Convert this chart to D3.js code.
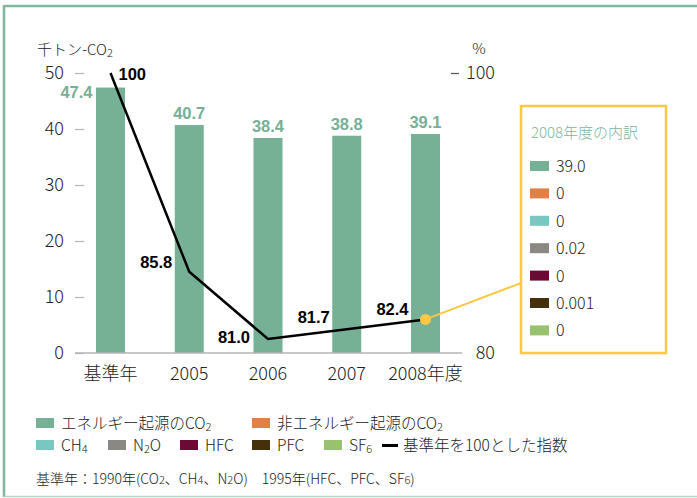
<!DOCTYPE html>
<html>
<head>
<meta charset="utf-8">
<script src="https://cdn.jsdelivr.net/npm/d3@7"></script>
<style>
  body { margin: 0; background: #fff; }
  text { font-family: "Noto Sans CJK JP", "Noto Sans", sans-serif; font-weight: 300; }
  .num { font-family: "Liberation Sans", Arial, sans-serif; font-weight: bold; }
</style>
</head>
<body>
<div id="chart"></div>
<script>
const categories = ["基準年", "2005", "2006", "2007", "2008年度"]
const co2Values = [47.4, 40.7, 38.4, 38.8, 39.1]
const indexValues = [100, 85.8, 81.0, 81.7, 82.4]
const leftTicks = [0, 10, 20, 30, 40, 50]
const rightTicks = [80, 100]
const breakdownLabels = ["39.0", "0", "0", "0.02", "0", "0.001", "0"]
const gasColors = ["#76b095", "#e08044", "#79c7c0", "#8b8783", "#6b0b35", "#45300c", "#99c270"]

const width = 697
const height = 498
const margin = { top: 73, bottom: 145, left: 84, right: 235 }
const plotH = height - margin.top - margin.bottom // 280

let svg = d3.select("#chart").append("svg")
    .attr("width", width)
    .attr("height", height)

// frame
svg.append("line").attr("x1", 4).attr("x2", 697).attr("y1", 6).attr("y2", 6)
    .attr("stroke", "#7fb89e").attr("stroke-width", 2.5)
svg.append("line").attr("x1", 4).attr("x2", 4).attr("y1", 5).attr("y2", 497)
    .attr("stroke", "#7fb89e").attr("stroke-width", 2.5)
svg.append("line").attr("x1", 4).attr("x2", 697).attr("y1", 496.5).attr("y2", 496.5)
    .attr("stroke", "#b4d6c4").attr("stroke-width", 1.5)

let xScale = d3.scalePoint().domain(categories).range([110.5, 425.5])
let yScale = d3.scaleLinear().domain([0, 50]).range([margin.top + plotH, margin.top])
let yScaleR = d3.scaleLinear().domain([80, 100]).range([margin.top + plotH, margin.top])
const barW = 29

// left axis
let yAxis = d3.axisLeft(yScale).tickValues(leftTicks).tickSizeInner(9).tickSizeOuter(0).tickPadding(11)
let yAxisG = svg.append("g").attr("transform", `translate(${margin.left},0)`).call(yAxis)
yAxisG.select(".domain").remove()
yAxisG.selectAll(".tick line").attr("stroke", "#b5b5b5").attr("stroke-width", 1.2)
yAxisG.selectAll(".tick text").attr("font-size", "18px").attr("fill", "#222")
    .attr("font-family", "'Noto Sans CJK JP', sans-serif")

// right axis
let yAxisR = d3.axisRight(yScaleR).tickValues(rightTicks).tickSize(0).tickPadding(0)
let yAxisRG = svg.append("g").attr("transform", "translate(495,0)").call(yAxisR)
yAxisRG.select(".domain").remove()
yAxisRG.selectAll(".tick text").attr("text-anchor", "end").attr("font-size", "18px").attr("fill", "#222")
    .attr("font-family", "'Noto Sans CJK JP', sans-serif")
yAxisRG.selectAll(".tick").filter(d => d === 100).append("line")
    .attr("x1", -44).attr("x2", -36).attr("stroke", "#555").attr("stroke-width", 1.2)

// units
let unitL = svg.append("text").attr("x", 37).attr("y", 55).attr("font-size", "15px").attr("fill", "#222")
unitL.append("tspan").text("千トン-CO")
unitL.append("tspan").attr("font-size", "11px").attr("dy", 2).text("2")
svg.append("text").attr("x", 479).attr("y", 54).attr("text-anchor", "middle")
    .attr("font-size", "15px").attr("fill", "#222").text("%")

// bars
svg.selectAll(".bar").data(co2Values).join("rect")
    .attr("class", "bar")
    .attr("x", (d, i) => xScale(categories[i]) - barW / 2)
    .attr("width", barW)
    .attr("y", d => yScale(d))
    .attr("height", d => yScale(0) - yScale(d))
    .attr("fill", gasColors[0])

// baseline
svg.append("line").attr("x1", 75).attr("x2", 462).attr("y1", yScale(0)).attr("y2", yScale(0))
    .attr("stroke", "#b5b5b5").attr("stroke-width", 1.5)

// x labels
svg.selectAll(".xlab").data(categories).join("text")
    .attr("class", "xlab")
    .attr("x", d => xScale(d)).attr("y", 380)
    .attr("text-anchor", "middle").attr("font-size", "18px").attr("fill", "#222")
    .text(d => d)

// bar value labels
svg.selectAll(".barlab").data(co2Values).join("text")
    .attr("class", "barlab num")
    .attr("x", (d, i) => i === 0 ? xScale(categories[i]) - 18 : xScale(categories[i]))
    .attr("y", (d, i) => i === 0 ? yScale(d) + 10 : yScale(d) - 6)
    .attr("text-anchor", (d, i) => i === 0 ? "end" : "middle")
    .attr("font-size", "16.5px").attr("fill", "#76b095")
    .text(d => d.toFixed(1))

// index line
let line = d3.line().x((d, i) => xScale(categories[i])).y(d => yScaleR(d))
svg.append("path").datum(indexValues)
    .attr("d", line).attr("fill", "none").attr("stroke", "#000").attr("stroke-width", 2.5)

// connector to breakdown box
let lastX = xScale(categories[4]), lastY = yScaleR(indexValues[4])
svg.append("line").attr("x1", lastX).attr("y1", lastY).attr("x2", 521).attr("y2", 283)
    .attr("stroke", "#f9c845").attr("stroke-width", 2)
svg.append("circle").attr("cx", lastX).attr("cy", lastY).attr("r", 5.5).attr("fill", "#f9c845")

// index labels
const idxOffsets = [[8, 7, "start"], [-17, -4, "end"], [-18, 4, "end"], [-33, -6, "middle"], [-17, -4, "end"]]
svg.selectAll(".idxlab").data(indexValues).join("text")
    .attr("class", "idxlab num")
    .attr("x", (d, i) => xScale(categories[i]) + idxOffsets[i][0])
    .attr("y", (d, i) => yScaleR(d) + idxOffsets[i][1])
    .attr("text-anchor", (d, i) => idxOffsets[i][2])
    .attr("font-size", "16.5px").attr("fill", "#000")
    .text((d, i) => i === 0 ? "100" : d.toFixed(1))

// breakdown box
let box = svg.append("g").attr("transform", "translate(521,106)")
box.append("rect").attr("width", 145).attr("height", 247)
    .attr("fill", "#fff").attr("stroke", "#f9c845").attr("stroke-width", 2.5)
box.append("text").attr("x", 10).attr("y", 32).attr("font-size", "15px").attr("fill", "#7db59a")
    .text("2008年度の内訳")
let rows = box.selectAll(".brow").data(breakdownLabels).join("g")
    .attr("class", "brow")
    .attr("transform", (d, i) => `translate(9,${55 + i * 27.4})`)
rows.append("rect").attr("width", 19).attr("height", 10).attr("fill", (d, i) => gasColors[i])
rows.append("text").attr("x", 26).attr("y", 11).attr("font-size", "16px").attr("fill", "#222").text(d => d)

// bottom legend
const legendItems = [
    { parts: [["エネルギー起源のCO", 0], ["2", 1]], x: 36, y: 418, c: gasColors[0] },
    { parts: [["非エネルギー起源のCO", 0], ["2", 1]], x: 252, y: 418, c: gasColors[1] },
    { parts: [["CH", 0], ["4", 1]], x: 36, y: 440, c: gasColors[2] },
    { parts: [["N", 0], ["2", 1], ["O", 2]], x: 108, y: 440, c: gasColors[3] },
    { parts: [["HFC", 0]], x: 180, y: 440, c: gasColors[4] },
    { parts: [["PFC", 0]], x: 252, y: 440, c: gasColors[5] },
    { parts: [["SF", 0], ["6", 1]], x: 324, y: 440, c: gasColors[6] }
]
let leg = svg.selectAll(".leg").data(legendItems).join("g")
    .attr("class", "leg").attr("transform", d => `translate(${d.x},${d.y})`)
leg.append("rect").attr("width", 18).attr("height", 10).attr("fill", d => d.c)
let legText = leg.append("text").attr("x", 25).attr("y", 10.5).attr("font-size", "15.5px").attr("fill", "#222")
legText.each(function (d) {
    let t = d3.select(this)
    d.parts.forEach(p => {
        let s = t.append("tspan").text(p[0])
        if (p[1] === 1) s.attr("font-size", "11px").attr("dy", 2)
        if (p[1] === 2) s.attr("dy", -2)
    })
})
svg.append("line").attr("x1", 382).attr("x2", 398).attr("y1", 445.5).attr("y2", 445.5)
    .attr("stroke", "#000").attr("stroke-width", 3)
svg.append("text").attr("x", 403).attr("y", 450.5).attr("font-size", "15.5px").attr("fill", "#222")
    .text("基準年を100とした指数")

// footnote
const note = [["基準年：1990年(CO", 0], ["2", 1], ["、CH", 0], ["4", 1], ["、N", 0], ["2", 1], ["O)　1995年(HFC、PFC、SF", 0], ["6", 1], [")", 0]]
let noteT = svg.append("text").attr("x", 36).attr("y", 484).attr("font-size", "14px").attr("fill", "#222")
note.forEach(p => {
    noteT.append("tspan").attr("font-size", p[1] ? "11px" : "14px").text(p[0])
})
</script>
</body>
</html>
